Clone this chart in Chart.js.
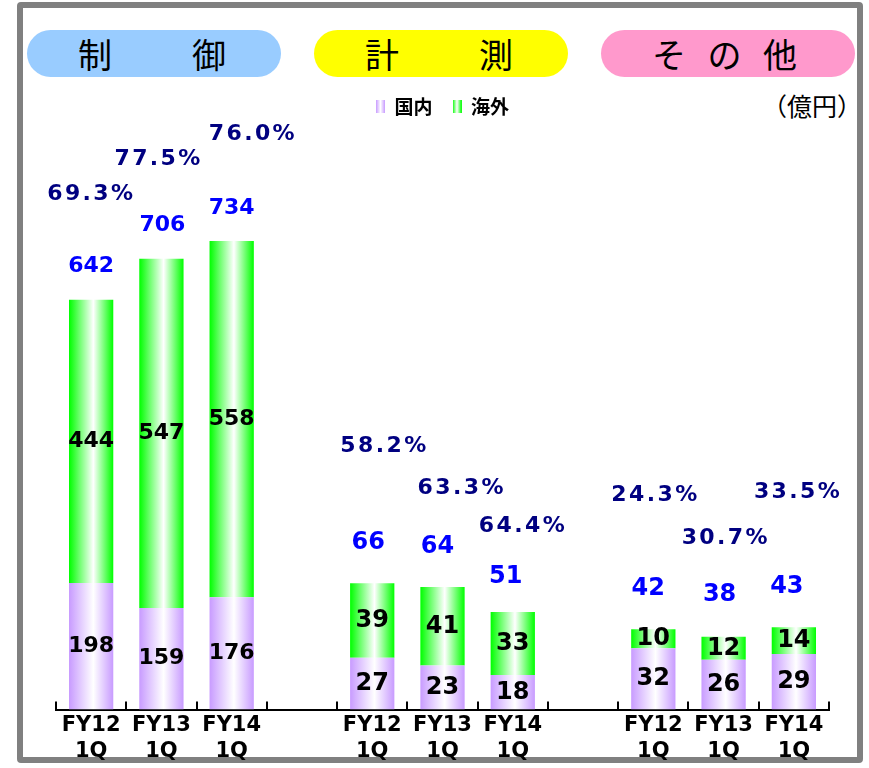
<!DOCTYPE html>
<html lang="ja">
<head>
<meta charset="utf-8">
<title>セグメント別 売上高（1Q）</title>
<script src="https://cdn.jsdelivr.net/npm/chart.js@4.4.0/dist/chart.umd.min.js"></script>
<style>
  html, body { margin:0; padding:0; background:#fff; }
  #wrap  { position:relative; width:869px; height:768px; overflow:hidden; font-family:'Noto Sans CJK JP', sans-serif; }
  #frame { position:absolute; left:17px; top:2px; width:834px; height:749px; border:6px solid #808080; border-radius:4px; }
  .pill  { position:absolute; top:30px; height:47px; width:254px; border-radius:24px;
           display:flex; align-items:center; justify-content:center; font-size:34px; color:#000; line-height:1; }
  #unit  { position:absolute; right:7px; top:88px; font-size:25px; line-height:34px; color:#000; }
  canvas { position:absolute; left:0; top:0; }
</style>
</head>
<body>
<div id="wrap">
  <div id="frame"></div>
  <div class="pill" id="pill-0" style="left:27px;  background:#99ccff; letter-spacing:4px;"></div>
  <div class="pill" id="pill-1" style="left:314px; background:#ffff00; letter-spacing:4px;"></div>
  <div class="pill" id="pill-2" style="left:601px; background:#ff99cc; letter-spacing:7px;"></div>
  <div id="unit">（億円）</div>
  <canvas id="seg-canvas" width="869" height="768"></canvas>
</div>
<script>
// data (億円) — one row per segment, FY12/FY13/FY14 1Q
const groups      = ['制　　御', '計　　測', 'そ の 他'];
const periods     = [['FY12', '1Q'], ['FY13', '1Q'], ['FY14', '1Q']];
const domestic    = [[198, 159, 176], [27, 23, 18], [32, 26, 29]];
const overseas    = [[444, 547, 558], [39, 41, 33], [10, 12, 14]];
const overseasPct = [[69.3, 77.5, 76.0], [58.2, 63.3, 64.4], [24.3, 30.7, 33.5]];

// label nudges (layout only): [pct dx, pct dy, total dx, total dy] from bar top
const nudges = [
  [[-1, -105, 0, -33], [-4, -100, 1, -34], [20, -107, 0, -33]],
  [[11, -137, -4, -40], [18, -99, -5, -40], [9, -86, -7, -35]],
  [[1, -134, -5, -40], [1, -99, -4, -42], [3, -135, -7, -40]]
];

const PURPLE = '#c89bff';
const GREEN  = '#00ff00';
const BAR_FRAC = 0.63;

groups.forEach((g, i) => { document.getElementById('pill-' + i).textContent = g; });

// flatten into 11 categories: 3 bars, gap, 3 bars, gap, 3 bars
const labels = [], slots = [];
groups.forEach((g, gi) => {
  if (gi > 0) { labels.push(''); slots.push(null); }
  periods.forEach((p, pi) => { labels.push(p); slots.push([gi, pi]); });
});
const pick = (arr, want) => slots.map(s => s && want(s[0]) ? arr[s[0]][s[1]] : null);

function barFill(base) {
  return ctx => {
    const chart = ctx.chart;
    const x = chart.scales && chart.scales.x;
    if (!chart.chartArea || !x || ctx.type !== 'data') return base;
    const cx = x.getPixelForValue(ctx.dataIndex);
    const half = x.width / labels.length * BAR_FRAC / 2;
    const g = chart.ctx.createLinearGradient(cx - half, 0, cx + half, 0);
    g.addColorStop(0, base);
    g.addColorStop(0.55, '#ffffff');
    g.addColorStop(1, base);
    return g;
  };
}

// legend swatch: colour / white / colour stripes like the original
function swatch(base) {
  const c = document.createElement('canvas');
  c.width = 9; c.height = 13;
  const x = c.getContext('2d');
  const g = x.createLinearGradient(0, 0, 9, 0);
  g.addColorStop(0, base); g.addColorStop(0.5, '#ffffff'); g.addColorStop(1, base);
  x.fillStyle = g; x.fillRect(0, 0, 9, 13);
  return c;
}

const axisTicks = {
  id: 'axisTicks',
  afterDraw(chart) {
    const x = chart.scales.x, { ctx, chartArea } = chart;
    const step = x.width / labels.length;
    ctx.save();
    ctx.strokeStyle = '#000'; ctx.lineWidth = 2;
    for (let i = 0; i <= labels.length; i++) {
      const px = Math.round(x.left + step * i);
      ctx.beginPath(); ctx.moveTo(px, chartArea.bottom); ctx.lineTo(px, chartArea.bottom - 8); ctx.stroke();
    }
    ctx.restore();
  }
};

const barLabels = {
  id: 'barLabels',
  afterDatasetsDraw(chart) {
    const { ctx } = chart;
    ctx.save();
    ctx.textAlign = 'center'; ctx.textBaseline = 'middle';
    slots.forEach((s, i) => {
      if (!s) return;
      const [gi, pi] = s;
      const base = gi === 0 ? 0 : 2;
      const dom = chart.getDatasetMeta(base).data[i];
      const ovs = chart.getDatasetMeta(base + 1).data[i];
      const size = gi === 0 ? 22 : 24;
      const [pdx, pdy, tdx, tdy] = nudges[gi][pi];

      ctx.letterSpacing = '0px';
      ctx.fillStyle = '#000';
      ctx.font = `bold ${size}px "DejaVu Sans"`;
      ctx.fillText(domestic[gi][pi], dom.x, (dom.y + dom.base) / 2);
      ctx.fillText(overseas[gi][pi], ovs.x, (ovs.y + ovs.base) / 2);

      ctx.fillStyle = '#0000ff';
      ctx.fillText(domestic[gi][pi] + overseas[gi][pi], ovs.x + tdx, ovs.y + tdy);

      ctx.fillStyle = '#000080';
      ctx.font = 'bold 22px "DejaVu Sans"';
      ctx.letterSpacing = '2.4px';
      ctx.fillText(overseasPct[gi][pi].toFixed(1) + '%', ovs.x + pdx + 1.2, ovs.y + pdy);
    });
    ctx.restore();
  }
};

const common = { stack: 'seg', borderWidth: 0, barPercentage: BAR_FRAC, categoryPercentage: 1 };
const swatches = [swatch(PURPLE), swatch(GREEN)];

new Chart(document.getElementById('seg-canvas'), {
  type: 'bar',
  data: {
    labels,
    datasets: [
      { ...common, label: '国内', data: pick(domestic, g => g === 0), yAxisID: 'y',  backgroundColor: barFill(PURPLE) },
      { ...common, label: '海外', data: pick(overseas, g => g === 0), yAxisID: 'y',  backgroundColor: barFill(GREEN) },
      { ...common, label: '国内', data: pick(domestic, g => g > 0),   yAxisID: 'y2', backgroundColor: barFill(PURPLE) },
      { ...common, label: '海外', data: pick(overseas, g => g > 0),   yAxisID: 'y2', backgroundColor: barFill(GREEN) }
    ]
  },
  options: {
    responsive: false, animation: false,
    layout: { padding: { left: 56, right: 40, top: 77, bottom: 0 } },
    plugins: {
      legend: {
        position: 'top',
        labels: {
          boxWidth: 9, boxHeight: 13, padding: 20, color: '#000',
          font: { family: '"Noto Sans CJK JP"', size: 19, weight: 'bold' },
          usePointStyle: true,
          generateLabels: chart => chart.data.datasets.slice(0, 2).map((ds, i) => ({
            text: ds.label, datasetIndex: i, pointStyle: swatches[i], hidden: false, lineWidth: 0
          }))
        }
      },
      tooltip: { enabled: false }
    },
    scales: {
      x: {
        stacked: true,
        grid: { display: false, drawTicks: false },
        border: { display: true, color: '#000', width: 2 },
        ticks: { color: '#000', autoSkip: false, maxRotation: 0, padding: 3,
                 font: { family: '"DejaVu Sans"', size: 21, weight: 'bold', lineHeight: 1.25 } }
      },
      y:  { stacked: true, display: false, min: 0, max: 914 },
      y2: { stacked: true, display: false, min: 0, max: 305 }
    }
  },
  plugins: [axisTicks, barLabels]
});
</script>
</body>
</html>
